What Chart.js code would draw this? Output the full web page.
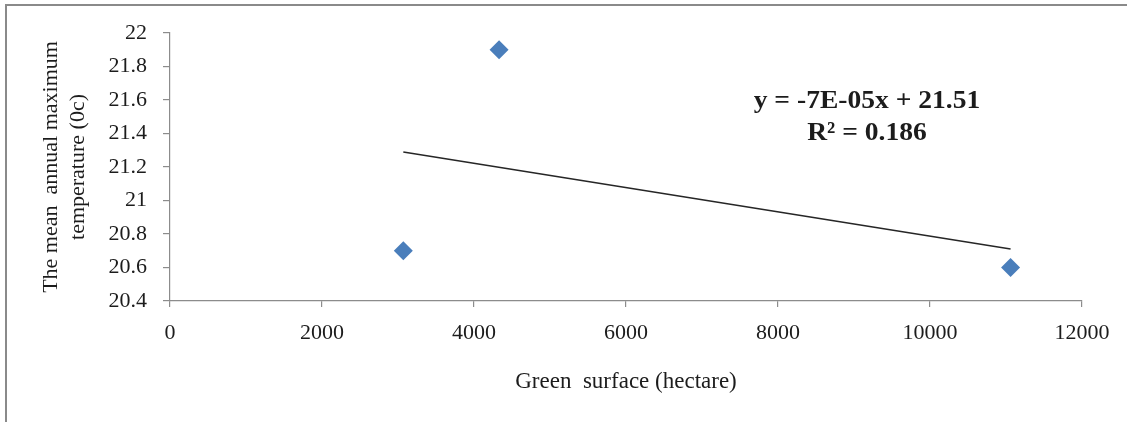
<!DOCTYPE html>
<html>
<head>
<meta charset="utf-8">
<script src="https://cdn.jsdelivr.net/npm/chart.js@4/dist/chart.umd.min.js"></script>
<style>
  html, body { margin: 0; padding: 0; background: #fff; }
  #wrap { position: relative; width: 1127px; height: 422px; }
  #frame { position: absolute; left: 5px; top: 4px; right: 0; bottom: 0;
           border-top: 2px solid #8a8a8a; border-left: 2px solid #8a8a8a; pointer-events: none; }
  canvas { position: absolute; left: 0; top: 0; }
</style>
</head>
<body>
<div id="wrap">
  <canvas id="c" width="1127" height="422"></canvas>
  <div id="frame"></div>
</div>
<script>
// ---- data ----
const greenSurface = [3070, 4330, 11060];          // hectare
const maxTemperature = [20.7, 21.9, 20.6];         // °C
const trendX = [3070, 11060];                      // linear trendline end points
const trendY = [21.29, 20.71];
const xTicks = [0, 2000, 4000, 6000, 8000, 10000, 12000];
const yTicks = [20.4, 20.6, 20.8, 21, 21.2, 21.4, 21.6, 21.8, 22];
const xTitle = 'Green  surface (hectare)';
const yTitle = ['The mean  annual maximum', 'temperature (0c)'];
const equationLines = ['y = -7E-05x + 21.51', 'R² = 0.186'];

const FONT = "'Liberation Serif', 'Times New Roman', serif";
const TEXT = '#1c1c1c';

const scatterData = greenSurface.map((x, i) => ({ x, y: maxTemperature[i] }));
const trendData = trendX.map((x, i) => ({ x, y: trendY[i] }));

const equationPlugin = {
  id: 'equation',
  afterDatasetsDraw(chart) {
    const ctx = chart.ctx;
    ctx.save();
    ctx.fillStyle = TEXT;
    ctx.font = "bold 26px " + FONT;
    ctx.textBaseline = 'middle';
    ctx.textAlign = 'center';
    ctx.translate(867, 0);
    ctx.scale(1.06, 1);
    ctx.fillText(equationLines[0], 0, 101);
    ctx.fillText(equationLines[1], 0, 133);
    ctx.restore();
  }
};

new Chart(document.getElementById('c'), {
  type: 'scatter',
  data: {
    datasets: [
      {
        label: 'data',
        data: scatterData,
        pointStyle: 'rectRot',
        pointRadius: 9.5,
        pointHoverRadius: 9.5,
        backgroundColor: '#4a7ebb',
        borderColor: '#4a7ebb',
        borderWidth: 0,
        order: 1
      },
      {
        label: 'trend',
        type: 'line',
        data: trendData,
        showLine: true,
        pointRadius: 0,
        borderColor: '#262626',
        borderWidth: 1.5,
        fill: false,
        order: 2
      }
    ]
  },
  options: {
    responsive: false,
    animation: false,
    devicePixelRatio: 1,
    layout: { padding: { left: 0, top: 33, right: 45, bottom: 0 } },
    plugins: { legend: { display: false }, tooltip: { enabled: false } },
    scales: {
      x: {
        type: 'linear',
        min: 0, max: 12000,
        afterBuildTicks(s) { s.ticks = xTicks.map(v => ({ value: v })); },
        afterFit(s) { s.height = 121; },
        grid: { drawOnChartArea: false, color: '#8c8c8c', tickLength: 6, lineWidth: 1.2 },
        border: { color: '#8c8c8c', width: 1.2 },
        ticks: {
          padding: 13,
          color: TEXT,
          font: { family: FONT, size: 22 },
          maxRotation: 0,
          callback: v => String(v)
        },
        title: {
          display: true,
          text: xTitle,
          color: TEXT,
          font: { family: FONT, size: 23 },
          padding: { top: 0, bottom: 26 }
        }
      },
      y: {
        type: 'linear',
        min: 20.4, max: 22,
        afterBuildTicks(s) { s.ticks = yTicks.map(v => ({ value: v })); },
        afterFit(s) { s.width = 170; },
        grid: { drawOnChartArea: false, color: '#8c8c8c', tickLength: 7, lineWidth: 1.2 },
        border: { color: '#8c8c8c', width: 1.2 },
        ticks: {
          padding: 16,
          color: TEXT,
          font: { family: FONT, size: 22 },
          callback: v => String(Number(v.toFixed(1)))
        },
        title: {
          display: true,
          text: yTitle,
          color: TEXT,
          font: { family: FONT, size: 22, lineHeight: 1.23 },
          padding: { top: 38, bottom: 0 }
        }
      }
    }
  },
  plugins: [equationPlugin]
});
</script>
</body>
</html>
